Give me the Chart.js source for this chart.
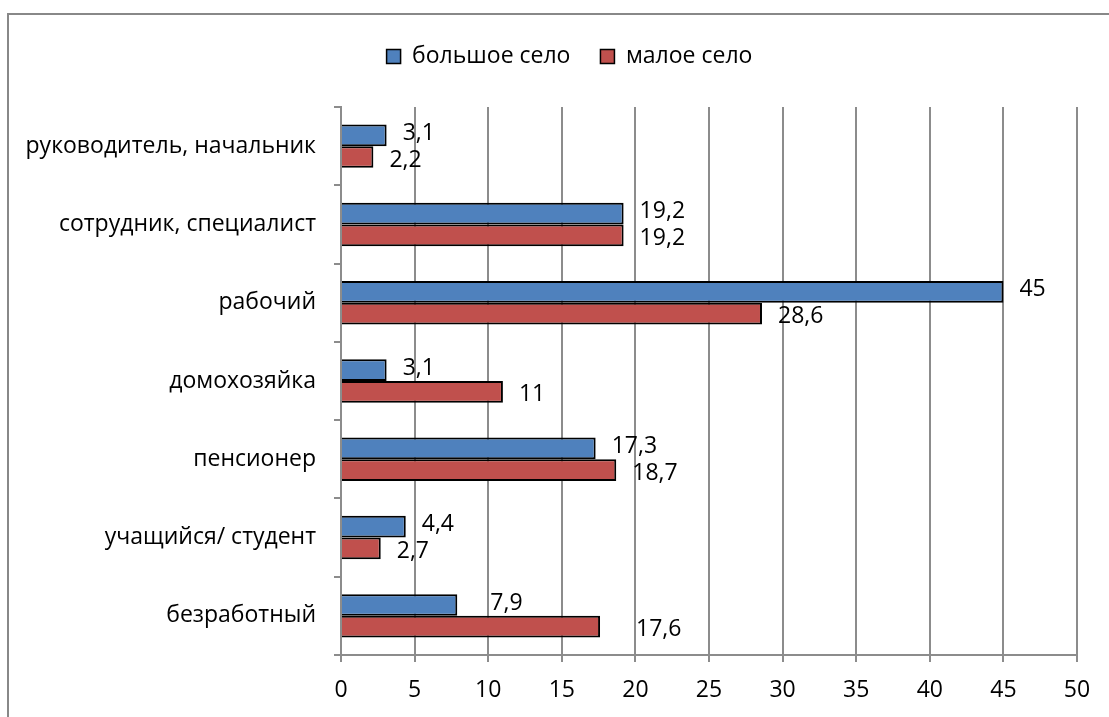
<!DOCTYPE html>
<html lang="ru">
<head>
<meta charset="utf-8">
<title>Социальный статус: большое и малое село</title>
<script src="https://cdn.jsdelivr.net/npm/chart.js@4/dist/chart.umd.min.js"></script>
<style>
  html, body { margin: 0; padding: 0; background: #fff; overflow: hidden; width: 1109px; height: 717px; }
  #frame {
    position: absolute; left: 7px; top: 13px;
    width: 1130px; height: 720px;
    border-left: 2px solid #888; border-top: 2px solid #888;
  }
  #wrap { position: absolute; left: 1px; top: 0; width: 1126px; height: 702px; }
</style>
</head>
<body>
<div id="frame"><div id="wrap"><canvas id="chart"></canvas></div></div>
<script>
// Категории (сверху вниз)
const categories = [
  'руководитель, начальник',
  'сотрудник, специалист',
  'рабочий',
  'домохозяйка',
  'пенсионер',
  'учащийся/ студент',
  'безработный'
];
// Доли, %
const bigVillage = [3.1, 19.2, 45, 3.1, 17.3, 4.4, 7.9];
const smallVillage = [2.2, 19.2, 28.6, 11, 18.7, 2.7, 17.6];
const seriesNames = ['большое село', 'малое село'];
const xTicks = [0, 5, 10, 15, 20, 25, 30, 35, 40, 45, 50];

const FONT = "'Open Sans', 'DejaVu Sans', sans-serif";
const FONT_SIZE = 23;
const GRID = '#8c8c8c';

// Подписи значений справа от столбцов
const valueLabels = {
  id: 'valueLabels',
  afterDatasetsDraw(chart, args, opts) {
    const ctx = chart.ctx;
    ctx.save();
    ctx.font = FONT_SIZE + 'px ' + FONT;
    ctx.fillStyle = '#000';
    ctx.textAlign = 'left';
    ctx.textBaseline = 'middle';
    chart.data.datasets.forEach((ds, di) => {
      const meta = chart.getDatasetMeta(di);
      meta.data.forEach((bar, i) => {
        const txt = String(ds.data[i]).replace('.', ',');
        const extra = (opts.extraGap[di] && opts.extraGap[di][i]) || 0;
        ctx.fillText(txt, bar.x + opts.gap + extra, bar.y + (di === 0 ? -2 : 3));
      });
    });
    ctx.restore();
  }
};

// Легенда: фиксированная высота блока и центрирование по всей рамке
const legendLayout = {
  id: 'legendLayout',
  beforeInit(chart) {
    const fit = chart.legend.fit;
    chart.legend.fit = function () {
      fit.call(this);
      this.height = 92;
    };
  },
  afterLayout(chart, args, opts) {
    chart.legend.left += opts.shift;
    chart.legend.right += opts.shift;
  }
};

new Chart(document.getElementById('chart'), {
  type: 'bar',
  data: {
    labels: categories,
    datasets: [
      { label: seriesNames[0], data: bigVillage, backgroundColor: '#4F81BD', borderColor: '#000', borderWidth: 2 },
      { label: seriesNames[1], data: smallVillage, backgroundColor: '#C0504D', borderColor: '#000', borderWidth: 2 }
    ]
  },
  options: {
    indexAxis: 'y',
    responsive: true,
    maintainAspectRatio: false,
    animation: false,
    categoryPercentage: 0.555,
    barPercentage: 1.0,
    layout: { padding: { left: 0, right: 59, top: 0, bottom: 0 } },
    plugins: {
      legendLayout: { shift: 26 },
      valueLabels: { gap: 16, extraGap: { 0: { 6: 17 }, 1: { 6: 20 } } },
      legend: {
        position: 'top',
        labels: {
          font: { size: FONT_SIZE, family: FONT },
          color: '#000',
          boxWidth: 14,
          boxHeight: 14,
          padding: 30,
          generateLabels(chart) {
            return chart.data.datasets.map((ds, i) => ({
              text: ds.label,
              fillStyle: ds.backgroundColor,
              strokeStyle: '#000',
              lineWidth: 1.5,
              datasetIndex: i,
              hidden: false
            }));
          }
        }
      },
      tooltip: { enabled: false }
    },
    scales: {
      x: {
        type: 'linear',
        min: 0,
        max: 50,
        afterBuildTicks(scale) { scale.ticks = xTicks.map(v => ({ value: v })); },
        afterFit(scale) { scale.height = 62; },
        grid: { color: GRID, lineWidth: 2, drawTicks: true, tickLength: 7, tickColor: GRID },
        border: { display: true, color: GRID, width: 2 },
        ticks: { font: { size: FONT_SIZE, family: FONT }, color: '#000', padding: 15 }
      },
      y: {
        type: 'category',
        afterFit(scale) { scale.width = 331; },
        grid: { drawOnChartArea: false, drawTicks: true, tickLength: 7, offset: true, color: GRID, lineWidth: 2 },
        border: { display: true, color: GRID, width: 2 },
        ticks: { font: { size: FONT_SIZE, family: FONT }, color: '#000', padding: 18 }
      }
    }
  },
  plugins: [valueLabels, legendLayout]
});
</script>
</body>
</html>
